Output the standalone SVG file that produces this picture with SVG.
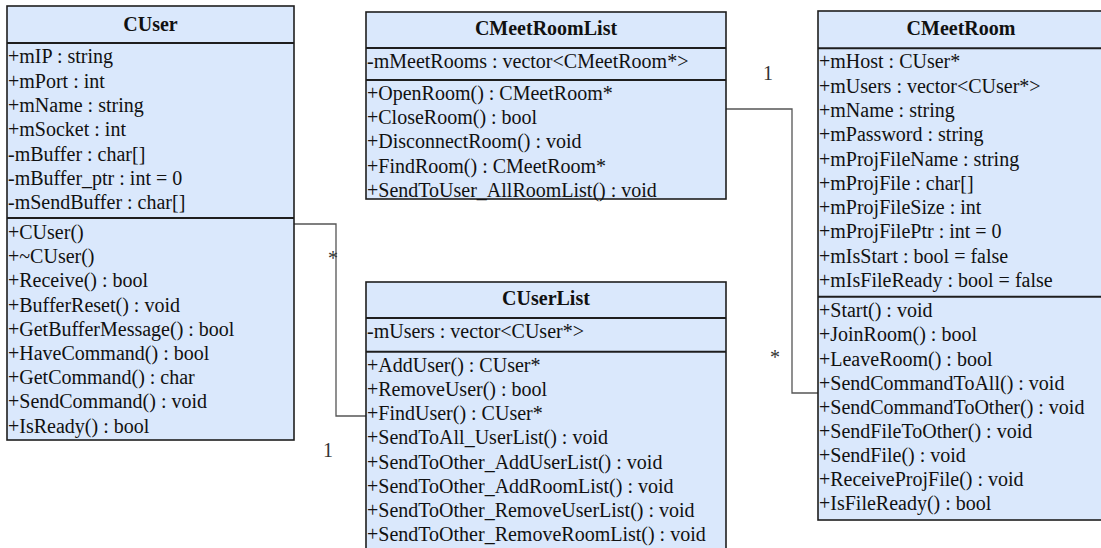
<svg xmlns="http://www.w3.org/2000/svg" width="1101" height="548" viewBox="0 0 1101 548">
  <style>
    .box { fill: #dae8fc; stroke: #1e1e1e; stroke-width: 1.6; }
    .sep { stroke: #1e1e1e; stroke-width: 2; }
    .title { font-family: "Liberation Serif", "Times New Roman", serif; font-size: 20px; font-weight: bold; fill: #111; text-anchor: middle; }
    .row { font-family: "Liberation Serif", "Times New Roman", serif; font-size: 20px; fill: #111; }
    .wire { fill: none; stroke: #555; stroke-width: 1.3; }
    .mult { font-family: "Liberation Serif", "Times New Roman", serif; font-size: 20px; fill: #333; text-anchor: middle; }
  </style>

  <rect width="1101" height="548" fill="#ffffff"/>

  <!-- associations -->
  <g id="connectors">
    <path class="wire" d="M294,224 H336 V416 H366"/>
    <path class="wire" d="M726,109 H792 V393 H818"/>
    <text class="mult" x="333" y="265">*</text>
    <text class="mult" x="328" y="457">1</text>
    <text class="mult" x="768" y="80">1</text>
    <text class="mult" x="775" y="364">*</text>
  </g>

  <!-- CUser -->
  <g id="CUser">
    <rect class="box" x="7" y="6" width="287" height="434"/>
    <line class="sep" x1="7" y1="43" x2="294" y2="43"/>
    <line class="sep" x1="7" y1="218" x2="294" y2="218"/>
    <text class="title" x="150.5" y="31">CUser</text>
    <text class="row" x="8">
      <tspan x="8" y="63.3">+mIP : string</tspan>
      <tspan x="8" y="87.6">+mPort : int</tspan>
      <tspan x="8" y="111.9">+mName : string</tspan>
      <tspan x="8" y="136.2">+mSocket : int</tspan>
      <tspan x="8" y="160.5">-mBuffer : char[]</tspan>
      <tspan x="8" y="184.8">-mBuffer_ptr : int = 0</tspan>
      <tspan x="8" y="209.1">-mSendBuffer : char[]</tspan>
    </text>
    <text class="row" x="8">
      <tspan x="8" y="239">+CUser()</tspan>
      <tspan x="8" y="263.2">+~CUser()</tspan>
      <tspan x="8" y="287.4">+Receive() : bool</tspan>
      <tspan x="8" y="311.6">+BufferReset() : void</tspan>
      <tspan x="8" y="335.8">+GetBufferMessage() : bool</tspan>
      <tspan x="8" y="360">+HaveCommand() : bool</tspan>
      <tspan x="8" y="384.2">+GetCommand() : char</tspan>
      <tspan x="8" y="408.4">+SendCommand() : void</tspan>
      <tspan x="8" y="432.6">+IsReady() : bool</tspan>
    </text>
  </g>

  <!-- CMeetRoomList -->
  <g id="CMeetRoomList">
    <rect class="box" x="366" y="12" width="360" height="187"/>
    <line class="sep" x1="366" y1="48" x2="726" y2="48"/>
    <line class="sep" x1="366" y1="80" x2="726" y2="80"/>
    <text class="title" x="546" y="35">CMeetRoomList</text>
    <text class="row" x="367" y="68">-mMeetRooms : vector&lt;CMeetRoom*&gt;</text>
    <text class="row" x="367">
      <tspan x="367" y="100">+OpenRoom() : CMeetRoom*</tspan>
      <tspan x="367" y="124.2">+CloseRoom() : bool</tspan>
      <tspan x="367" y="148.4">+DisconnectRoom() : void</tspan>
      <tspan x="367" y="172.6">+FindRoom() : CMeetRoom*</tspan>
      <tspan x="367" y="196.8">+SendToUser_AllRoomList() : void</tspan>
    </text>
  </g>

  <!-- CUserList -->
  <g id="CUserList">
    <rect class="box" x="366" y="282" width="360" height="272"/>
    <line class="sep" x1="366" y1="318" x2="726" y2="318"/>
    <line class="sep" x1="366" y1="351.7" x2="726" y2="351.7"/>
    <text class="title" x="546" y="305">CUserList</text>
    <text class="row" x="367" y="338.3">-mUsers : vector&lt;CUser*&gt;</text>
    <text class="row" x="367">
      <tspan x="367" y="371.7">+AddUser() : CUser*</tspan>
      <tspan x="367" y="395.9">+RemoveUser() : bool</tspan>
      <tspan x="367" y="420.1">+FindUser() : CUser*</tspan>
      <tspan x="367" y="444.3">+SendToAll_UserList() : void</tspan>
      <tspan x="367" y="468.5">+SendToOther_AddUserList() : void</tspan>
      <tspan x="367" y="492.7">+SendToOther_AddRoomList() : void</tspan>
      <tspan x="367" y="516.9">+SendToOther_RemoveUserList() : void</tspan>
      <tspan x="367" y="541.1">+SendToOther_RemoveRoomList() : void</tspan>
    </text>
  </g>

  <!-- CMeetRoom -->
  <g id="CMeetRoom">
    <rect class="box" x="818" y="11" width="286" height="509"/>
    <line class="sep" x1="818" y1="48.3" x2="1104" y2="48.3"/>
    <line class="sep" x1="818" y1="296.7" x2="1104" y2="296.7"/>
    <text class="title" x="961" y="35">CMeetRoom</text>
    <text class="row" x="819">
      <tspan x="819" y="68.3">+mHost : CUser*</tspan>
      <tspan x="819" y="92.6">+mUsers : vector&lt;CUser*&gt;</tspan>
      <tspan x="819" y="116.9">+mName : string</tspan>
      <tspan x="819" y="141.2">+mPassword : string</tspan>
      <tspan x="819" y="165.5">+mProjFileName : string</tspan>
      <tspan x="819" y="189.8">+mProjFile : char[]</tspan>
      <tspan x="819" y="214.1">+mProjFileSize : int</tspan>
      <tspan x="819" y="238.4">+mProjFilePtr : int = 0</tspan>
      <tspan x="819" y="262.7">+mIsStart : bool = false</tspan>
      <tspan x="819" y="287">+mIsFileReady : bool = false</tspan>
    </text>
    <text class="row" x="819">
      <tspan x="819" y="317.3">+Start() : void</tspan>
      <tspan x="819" y="341.4">+JoinRoom() : bool</tspan>
      <tspan x="819" y="365.5">+LeaveRoom() : bool</tspan>
      <tspan x="819" y="389.6">+SendCommandToAll() : void</tspan>
      <tspan x="819" y="413.7">+SendCommandToOther() : void</tspan>
      <tspan x="819" y="437.8">+SendFileToOther() : void</tspan>
      <tspan x="819" y="461.9">+SendFile() : void</tspan>
      <tspan x="819" y="486">+ReceiveProjFile() : void</tspan>
      <tspan x="819" y="510.1">+IsFileReady() : bool</tspan>
    </text>
  </g>
</svg>
